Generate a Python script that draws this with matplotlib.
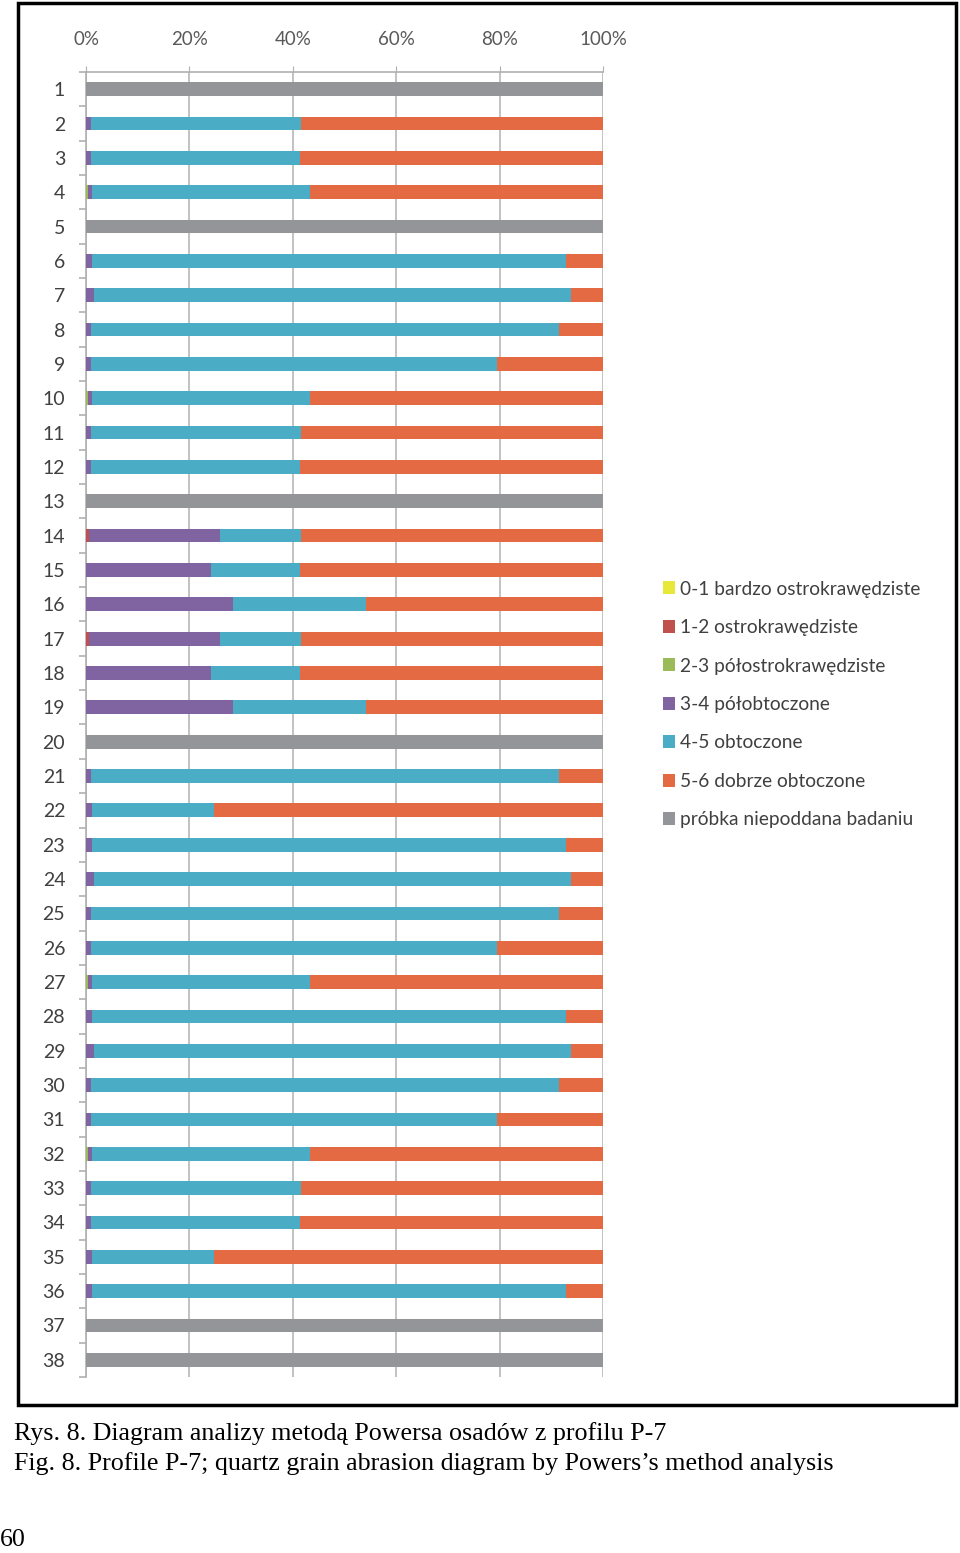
import matplotlib
matplotlib.use("Agg")
import matplotlib.pyplot as plt
from matplotlib.patches import Rectangle
import numpy as np

# samples 1..38, share of each roundness class (%)
samples = [str(i) for i in range(1, 39)]

c01 = [0] * 38
c12 = [0, 0, 0, 0, 0, 0, 0, 0, 0, 0, 0, 0, 0, 0.5, 0, 0, 0.5, 0, 0,
       0, 0, 0, 0, 0, 0, 0, 0, 0, 0, 0, 0, 0, 0, 0, 0, 0, 0, 0]
c23 = [0, 0, 0, 0.4, 0, 0, 0, 0, 0, 0.4, 0, 0, 0, 0, 0, 0, 0, 0, 0,
       0, 0, 0, 0, 0, 0, 0, 0.4, 0, 0, 0, 0, 0.4, 0, 0, 0, 0, 0, 0]
c34 = [0, 1.0, 1.0, 0.8, 0, 1.2, 1.5, 1.0, 1.0, 0.8, 1.0, 1.0, 0, 25.4, 24.2, 28.4, 25.4, 24.2, 28.4,
       0, 1.0, 1.2, 1.2, 1.5, 1.0, 1.0, 0.8, 1.2, 1.5, 1.0, 1.0, 0.8, 1.0, 1.0, 1.2, 1.2, 0, 0]
c45 = [0, 40.6, 40.4, 42.1, 0, 91.6, 92.3, 90.5, 78.5, 42.1, 40.6, 40.4, 0, 15.7, 17.2, 25.8, 15.7, 17.2, 25.8,
       0, 90.5, 23.6, 91.6, 92.3, 90.5, 78.5, 42.1, 91.6, 92.3, 90.5, 78.5, 42.1, 40.6, 40.4, 23.6, 91.6, 0, 0]
grey = [100, 0, 0, 0, 100, 0, 0, 0, 0, 0, 0, 0, 100, 0, 0, 0, 0, 0, 0,
        100, 0, 0, 0, 0, 0, 0, 0, 0, 0, 0, 0, 0, 0, 0, 0, 0, 100, 100]
c56 = [0 if g else 100 - a - b - c - d - e
       for a, b, c, d, e, g in zip(c01, c12, c23, c34, c45, grey)]

labels = ['0-1 bardzo ostrokrawędziste', '1-2 ostrokrawędziste',
          '2-3 półostrokrawędziste', '3-4 półobtoczone', '4-5 obtoczone',
          '5-6 dobrze obtoczone', 'próbka niepoddana badaniu']
colors = ['#e8e83a', '#c0504d', '#9bbb59', '#8064a2', '#4bacc6', '#e46a43', '#939598']
series = [c01, c12, c23, c34, c45, c56, grey]

W, H = 960, 1553
fig = plt.figure(figsize=(W / 100, H / 100), dpi=100)
plt.rcParams['font.family'] = ['Lato', 'DejaVu Sans']

ax = fig.add_axes([86 / W, 1 - 1377 / H, (603 - 86) / W, (1377 - 72) / H])
y = np.arange(1, 39)
left = np.zeros(38)
for vals, col, lab in zip(series, colors, labels):
    v = np.array(vals, dtype=float)
    ax.barh(y, v, left=left, height=0.4, color=col, label=lab, zorder=3)
    left += v

ax.set_xlim(0, 100)
ax.set_ylim(38.5, 0.5)
ax.set_xticks(range(0, 101, 20))
ax.set_xticklabels([f'{t}%' for t in range(0, 101, 20)])
ax.set_yticks(y)
ax.set_yticklabels(samples)
ax.set_yticks(np.arange(0.5, 39, 1), minor=True)
ax.xaxis.tick_top()
ax.grid(axis='x', color='#b8b8b8', linewidth=1.2, zorder=0)
for s in ['right', 'bottom']:
    ax.spines[s].set_visible(False)
for s in ['left', 'top']:
    ax.spines[s].set_color('#b0b0b0')
    ax.spines[s].set_linewidth(1.2)
ax.tick_params(axis='x', length=4, color='#b0b0b0', pad=13, labelsize=13.5, labelcolor='#595959')
ax.tick_params(axis='y', which='major', length=0, pad=15, labelsize=14, labelcolor='#404040')
ax.tick_params(axis='y', which='minor', length=5, color='#b0b0b0', width=1.2)

h, l = ax.get_legend_handles_labels()
fig.legend(h, l, loc='upper left', bbox_to_anchor=(653 / W, 1 - 571 / H), frameon=False,
           fontsize=13.8, labelcolor='#404040', handlelength=0.65, handleheight=0.65,
           handletextpad=0.25, labelspacing=1.12, borderpad=0)

# frame around the chart
fig.patches.append(Rectangle((18 / W, 1 - 1405 / H), (956 - 18) / W, (1405 - 3) / H,
                             transform=fig.transFigure, fill=False, edgecolor='black',
                             linewidth=2.5))

cap = dict(family=['Liberation Serif', 'DejaVu Serif'], fontsize=18.7, color='black', va='center')
fig.text(14 / W, 1 - 1434 / H, 'Rys. 8. Diagram analizy metodą Powersa osadów z profilu P-7', **cap)
fig.text(14 / W, 1 - 1464 / H, 'Fig. 8. Profile P-7; quartz grain abrasion diagram by Powers’s method analysis', **cap)
fig.text(0, 1 - 1540 / H, '60', **cap)

fig.savefig('out.png', dpi=100)
